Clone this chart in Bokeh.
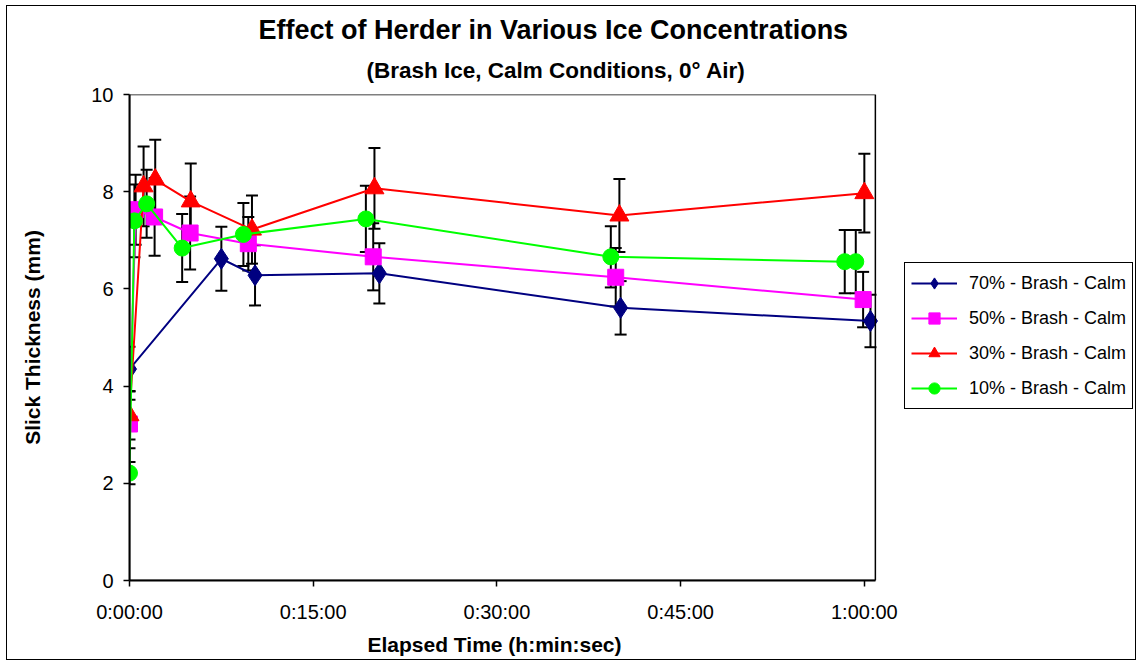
from bokeh.plotting import figure
from bokeh.models import (ColumnDataSource, FixedTicker, Whisker, TeeHead,
                          Legend, LegendItem, Title, Range1d, LinearAxis, BoxAnnotation)
from bokeh.embed import file_html
from bokeh.resources import INLINE

# ---- data (elapsed time in minutes) ----
t70 = [0.0, 7.5, 10.25, 20.4, 40.1, 60.5]
y70 = [4.35, 6.62, 6.28, 6.32, 5.61, 5.34]
e70 = [0.46, 0.66, 0.62, 0.62, 0.55, 0.54]

t50 = [0.0, 0.5, 2.05, 4.95, 9.7, 19.9, 39.7, 59.9]
y50 = [3.22, 7.63, 7.48, 7.15, 6.93, 6.66, 6.24, 5.78]
e50 = [0.5, 0.72, 0.8, 0.75, 0.55, 0.69, 0.6, 0.57]

t30 = [0.0, 1.15, 2.1, 5.0, 10.0, 20.0, 40.0, 60.0]
y30 = [3.4, 8.11, 8.25, 7.8, 7.22, 8.07, 7.51, 7.97]
e30 = [0.5, 0.82, 0.82, 0.78, 0.7, 0.83, 0.75, 0.81]

t10 = [0.0, 0.4, 1.4, 4.3, 9.3, 19.3, 39.3, 58.4, 59.3]
y10 = [2.21, 7.4, 7.75, 6.84, 7.12, 7.44, 6.66, 6.56, 6.56]
e10 = [0.23, 0.75, 0.7, 0.7, 0.65, 0.68, 0.63, 0.65, 0.65]

labels = ["70% - Brash - Calm", "50% - Brash - Calm", "30% - Brash - Calm", "10% - Brash - Calm"]
colors = ["#000080", "#FF00FF", "#FF0000", "#00FF00"]
markers = ["diamond", "square", "triangle", "circle"]
msizes = [21, 16, 19, 16]

x_ticks = [0, 15, 30, 45, 60]
x_tick_labels = ["0:00:00", "0:15:00", "0:30:00", "0:45:00", "1:00:00"]
y_ticks = [0, 2, 4, 6, 8, 10]
x_axis_max = 60.9      # end of the plotted time axis (min)
x_canvas_max = 82.14   # frame also holds the legend area to the right
y_min, y_max = 0, 10

FONT = "Liberation Sans"

p = figure(width=1130, height=655, output_backend="svg", toolbar_location=None,
           x_range=Range1d(0, x_canvas_max), y_range=Range1d(y_min, y_max),
           x_axis_location=None,
           min_border_left=122, min_border_right=2, min_border_top=88, min_border_bottom=79)
p.styles = {"border": "1.5px solid black", "margin-left": "6px", "margin-top": "5px"}
p.background_fill_color = "white"
p.border_fill_color = "white"
p.outline_line_color = None
p.grid.visible = False

xax = LinearAxis(bounds=(0, x_axis_max))
p.add_layout(xax, "below")

xax.ticker = FixedTicker(ticks=x_ticks, minor_ticks=[])
xax.major_label_overrides = {t: s for t, s in zip(x_ticks, x_tick_labels)}
p.yaxis.ticker = FixedTicker(ticks=y_ticks, minor_ticks=[])
for ax in (xax, p.yaxis[0]):
    ax.axis_line_color = "black"
    ax.axis_line_width = 2
    ax.major_tick_line_color = "black"
    ax.major_tick_line_width = 1.5
    ax.major_tick_in = 0
    ax.major_tick_out = 6
    ax.minor_tick_line_color = None
    ax.major_label_text_font = FONT
    ax.major_label_text_font_size = "20px"
    ax.major_label_text_color = "black"
    ax.axis_label_text_font = FONT
    ax.axis_label_text_font_style = "bold"
    ax.axis_label_text_font_size = "21px"
    ax.axis_label_text_color = "black"

p.yaxis.axis_label = "Slick Thickness (mm)"
xax.major_label_standoff = 14
p.yaxis.major_label_standoff = 10
p.yaxis.axis_label_standoff = 44

# x axis title, centred under the time axis (not under the legend area)
xtitle = Title(text="Elapsed Time (h:min:sec)", align="left", offset=238,
               text_font=FONT, text_font_size="21px", text_font_style="bold",
               text_color="black", standoff=11)
p.add_layout(xtitle, "below")

# plot-area outline
p.add_layout(BoxAnnotation(left=0, right=x_axis_max, bottom=y_min, top=y_max,
                           fill_color=None, fill_alpha=0,
                           line_color="black", line_alpha=1.0, line_width=1.5))

sub = Title(text="(Brash Ice, Calm Conditions, 0° Air)", align="left", offset=237,
            text_font=FONT, text_font_size="22.5px", text_font_style="bold",
            text_color="black", standoff=23)
main = Title(text="Effect of Herder in Various Ice Concentrations", align="left", offset=129,
             text_font=FONT, text_font_size="27px", text_font_style="bold",
             text_color="black", standoff=0)
p.add_layout(sub, "above")
p.add_layout(main, "above")

series = [(t70, y70, e70), (t50, y50, e50), (t30, y30, e30), (t10, y10, e10)]
items = []
for (t, y, e), lab, col, mk, ms in zip(series, labels, colors, markers, msizes):
    src = ColumnDataSource(dict(t=t, y=y,
                                lo=[a - b for a, b in zip(y, e)],
                                hi=[a + b for a, b in zip(y, e)]))
    w = Whisker(base="t", lower="lo", upper="hi", source=src, line_color="black", line_width=2,
                upper_head=TeeHead(size=12, line_color="black", line_width=2),
                lower_head=TeeHead(size=12, line_color="black", line_width=2))
    p.add_layout(w)
    ln = p.line("t", "y", source=src, line_color=col, line_width=2)
    sc = p.scatter("t", "y", source=src, marker=mk, size=ms, fill_color=col, line_color=col)
    items.append(LegendItem(label=lab, renderers=[ln, sc]))

legend = Legend(items=items, location=(775, 171), orientation="vertical",
                label_text_font=FONT, label_text_font_size="18px", label_text_color="black",
                glyph_width=46, glyph_height=28, spacing=7, padding=6,
                label_standoff=12, margin=0,
                border_line_color="black", border_line_width=1.5, border_line_alpha=1.0,
                background_fill_color="white")
p.add_layout(legend, "center")

open("out.html", "w").write(file_html(p, INLINE))
